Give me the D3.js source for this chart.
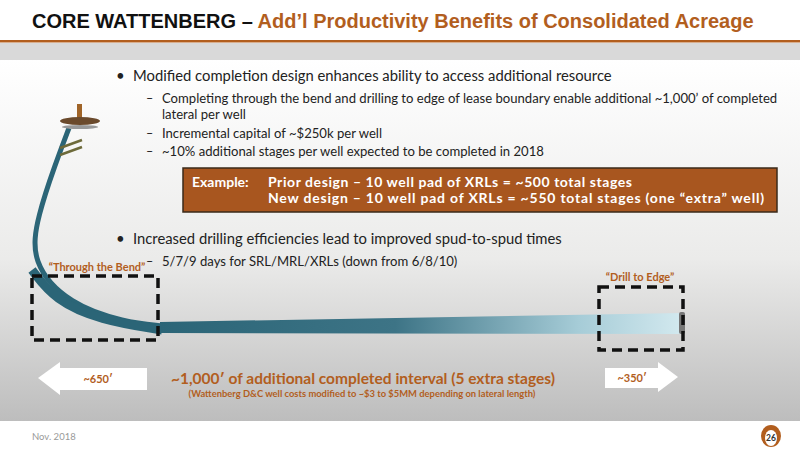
<!DOCTYPE html>
<html><head><meta charset="utf-8">
<script src="https://cdn.jsdelivr.net/npm/d3@7"></script>
<style>body{margin:0;overflow:hidden}svg{display:block}</style>
</head><body><div id="slide"></div>
<script>
// slide content
const titleBlack = 'CORE WATTENBERG – ';
const titleOrange = 'Add’l Productivity Benefits of Consolidated Acreage';
const bulletsTop = [
  {lvl: 1, text: 'Modified completion design enhances ability to access additional resource'},
  {lvl: 2, text: 'Completing through the bend and drilling to edge of lease boundary enable additional ~1,000’ of completed'},
  {lvl: 3, text: 'lateral per well'},
  {lvl: 2, text: 'Incremental capital of ~$250k per well'},
  {lvl: 2, text: '~10% additional stages per well expected to be completed in 2018'}
];
const bulletsBottom = [
  {lvl: 1, text: 'Increased drilling efficiencies lead to improved spud-to-spud times'},
  {lvl: 2, text: '5/7/9 days for SRL/MRL/XRLs (down from 6/8/10)'}
];
const exampleLabel = 'Example:';
const exampleLines = ['Prior design – 10 well pad of XRLs = ~500 total stages',
                      'New design  – 10 well pad of XRLs = ~550 total stages (one “extra” well)'];
const calloutLabels = ['“Through the Bend”', '“Drill to Edge”'];
const arrowLabels = ['~650′', '~350′'];
const mainNote = '~1,000′ of additional completed interval (5 extra stages)';
const subNote = '(Wattenberg D&C well costs modified to ~$3 to $5MM depending on lateral length)';

const W = 800, H = 450;
const orange = '#b25e1e', body = "Lato, 'Open Sans', sans-serif";
const svg = d3.select('#slide').append('svg').attr('width', W).attr('height', H);
const defs = svg.append('defs');

const bg = defs.append('linearGradient').attr('id', 'bg').attr('x1', 0).attr('x2', 0).attr('y1', 0).attr('y2', 1);
bg.append('stop').attr('offset', 0).attr('stop-color', '#ffffff');
bg.append('stop').attr('offset', 0.55).attr('stop-color', '#ebebea');
bg.append('stop').attr('offset', 1).attr('stop-color', '#bdbdbd');
const tube = defs.append('linearGradient').attr('id', 'tube').attr('x1', 0).attr('x2', 1);
tube.append('stop').attr('offset', 0).attr('stop-color', '#2b6577');
tube.append('stop').attr('offset', 0.45).attr('stop-color', '#3d7486');
tube.append('stop').attr('offset', 0.8).attr('stop-color', '#a6ccd7');
tube.append('stop').attr('offset', 1).attr('stop-color', '#d3e9ef');

svg.append('rect').attr('width', W).attr('height', H).attr('fill', '#fff');
svg.append('rect').attr('y', 60).attr('width', W).attr('height', 361).attr('fill', 'url(#bg)');
svg.append('rect').attr('y', 43).attr('width', W).attr('height', 17).attr('fill', '#d9d9d9');
svg.append('rect').attr('y', 40).attr('width', W).attr('height', 2.5).attr('fill', orange);

const t = svg.append('text').attr('x', 32).attr('y', 28)
  .attr('font-family', "'Liberation Sans', Arial, sans-serif").attr('font-weight', 'bold').attr('font-size', 20);
t.append('tspan').attr('fill', '#111').text(titleBlack);
t.append('tspan').attr('fill', orange).text(titleOrange);

// bullets
function drawBullets(list, y0) {
  const g = svg.append('g').attr('font-family', body).attr('fill', '#222');
  let y = y0, prev = 0;
  list.forEach(d => {
    if (d.lvl === 1) {
      g.append('text').attr('x', 116).attr('y', y).attr('font-size', 15).text('•');
      g.append('text').attr('x', 133).attr('y', y).attr('font-size', 14.8).text(d.text);
    } else {
      y += prev === 1 ? 4 : prev === 3 ? 3 : (prev === 2 && d.lvl === 2 ? 2 : 0);
      if (d.lvl === 2) g.append('text').attr('x', 146).attr('y', y).attr('font-size', 12.5).text('–');
      g.append('text').attr('x', 162).attr('y', y).attr('font-size', 13.1).text(d.text);
    }
    prev = d.lvl;
    y += d.lvl === 1 ? 18 : 16;
  });
}
drawBullets(bulletsTop, 81);
drawBullets(bulletsBottom, 244);

// example box
svg.append('rect').attr('x', 183).attr('y', 168).attr('width', 594).attr('height', 44)
  .attr('fill', '#a8561f').attr('stroke', '#3a2a1a').attr('stroke-width', 1.5);
const eg = svg.append('g').attr('font-family', body).attr('font-weight', 'bold').attr('font-size', 14).attr('fill', '#fff');
eg.append('text').attr('x', 192).attr('y', 187).text(exampleLabel);
exampleLines.forEach((s, i) => eg.append('text').attr('x', 268).attr('y', 187 + i * 16)
  .attr('textLength', i ? 496 : 364).attr('lengthAdjust', 'spacing').text(s));

// well path
const vert = d3.line().curve(d3.curveBasis);
svg.append('path').attr('d', vert([[69, 128], [55, 165], [38, 215], [30, 262], [70, 305], [125, 322], [162, 326]]))
  .attr('fill', 'none').attr('stroke', '#2b6577').attr('stroke-width', 5);
svg.append('path').attr('d', vert([[32, 270], [55, 300], [100, 320], [162, 330]]))
  .attr('fill', 'none').attr('stroke', '#2b6577').attr('stroke-width', 9);
// lateral
svg.append('path').attr('d', 'M160,322 L683,313 L683,334 L160,333 Z').attr('fill', 'url(#tube)');
svg.append('rect').attr('x', 679).attr('y', 312).attr('width', 6).attr('height', 22).attr('fill', '#777').attr('rx', 2);
// rig
svg.append('rect').attr('x', 77).attr('y', 104).attr('width', 5).attr('height', 14).attr('fill', '#a06428');
svg.append('ellipse').attr('cx', 80).attr('cy', 121).attr('rx', 20).attr('ry', 4).attr('fill', '#6b4a2c');
svg.append('ellipse').attr('cx', 80).attr('cy', 127).attr('rx', 18).attr('ry', 2).attr('fill', '#999');
[0, 7].forEach(o => svg.append('line').attr('x1', 60).attr('x2', 82).attr('y1', 148 + o).attr('y2', 140 + o)
  .attr('stroke', '#6d6a3a').attr('stroke-width', 2.5));

// dashed boxes
[[32, 276, 126, 64], [599, 287, 84, 63]].forEach(b =>
  svg.append('rect').attr('x', b[0]).attr('y', b[1]).attr('width', b[2]).attr('height', b[3])
    .attr('fill', 'none').attr('stroke', '#111').attr('stroke-width', 3.5).attr('stroke-dasharray', '10,6'));
const cl = svg.append('g').attr('font-family', body).attr('font-weight', 'bold').attr('font-size', 11).attr('fill', orange).attr('text-anchor', 'middle');
cl.append('text').attr('x', 97).attr('y', 271).text(calloutLabels[0]);
cl.append('text').attr('x', 640).attr('y', 281).text(calloutLabels[1]);

// arrows
svg.append('path').attr('d', 'M38,378 L60,362 L60,368 L147,368 L147,390 L60,390 L60,395 Z').attr('fill', '#fff');
svg.append('path').attr('d', 'M605,368 L658,368 L658,362 L678,377 L658,392 L658,388 L605,388 Z').attr('fill', '#fff');
const al = svg.append('g').attr('font-family', body).attr('font-weight', 'bold').attr('font-size', 11).attr('fill', orange).attr('text-anchor', 'middle');
al.append('text').attr('x', 98).attr('y', 383).text(arrowLabels[0]);
al.append('text').attr('x', 632).attr('y', 382).text(arrowLabels[1]);

svg.append('text').attr('x', 363).attr('y', 384).attr('text-anchor', 'middle').attr('font-family', body)
  .attr('font-weight', 'bold').attr('font-size', 15.5).attr('fill', orange).text(mainNote);
svg.append('text').attr('x', 362).attr('y', 397).attr('text-anchor', 'middle').attr('font-family', body)
  .attr('font-weight', 'bold').attr('font-size', 9.4).attr('fill', orange).text(subNote);

// footer
svg.append('text').attr('x', 32).attr('y', 440).attr('font-family', body).attr('font-size', 9.5).attr('fill', '#999').text('Nov. 2018');
svg.append('ellipse').attr('cx', 771).attr('cy', 436).attr('rx', 10).attr('ry', 11).attr('fill', orange);
svg.append('ellipse').attr('cx', 771).attr('cy', 438).attr('rx', 6).attr('ry', 8).attr('fill', '#fff');
svg.append('text').attr('x', 771).attr('y', 441).attr('text-anchor', 'middle').attr('font-family', body)
  .attr('font-size', 8.5).attr('font-weight', 'bold').attr('fill', '#333').text('26');
</script></body></html>
